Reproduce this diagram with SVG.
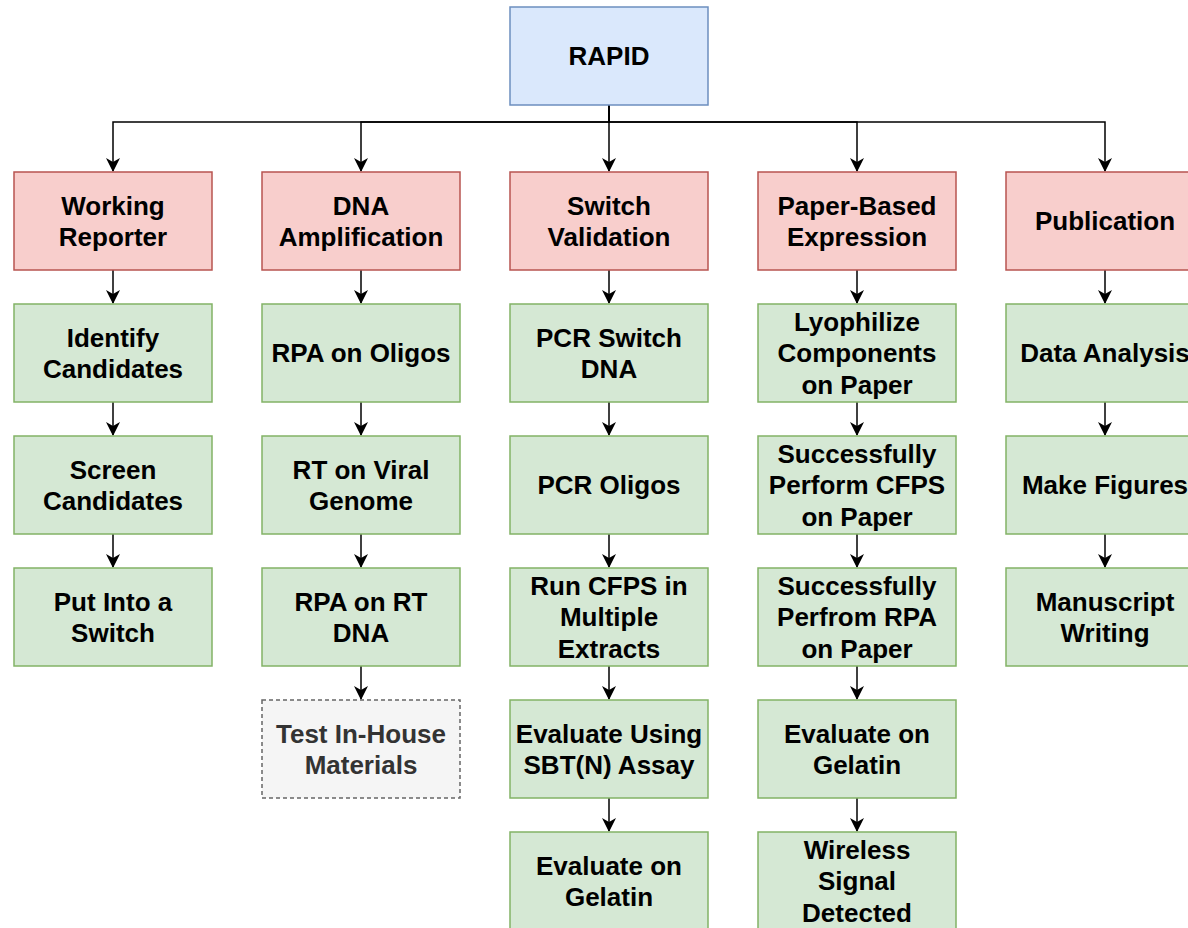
<svg xmlns="http://www.w3.org/2000/svg" width="1188" height="928" viewBox="0 0 1188 928">
<defs>
<style>
.n rect{stroke-width:1.5}
.blue rect{fill:#dae8fc;stroke:#6c8ebf}
.red rect{fill:#f8cecc;stroke:#b85450}
.green rect{fill:#d5e8d4;stroke:#82b366}
.grey rect{fill:#f5f5f5;stroke:#666666;stroke-dasharray:4 3}
.n text{font-family:"Liberation Sans",Arial,sans-serif;font-weight:bold;font-size:26px;text-anchor:middle;fill:#000}
.grey text{fill:#333333}
.e path{fill:none;stroke:#000;stroke-width:1.5;marker-end:url(#arr)}
</style>
<marker id="arr" markerUnits="userSpaceOnUse" viewBox="0 0 14 14" markerWidth="14" markerHeight="14" refX="13" refY="7" orient="auto">
<path d="M0,0 L14,7 L0,14 L4,7 z" fill="#000"/>
</marker>
</defs>
<rect width="1188" height="928" fill="#fff"/>
<g id="connectors" class="e">
<path d="M609,105 V122 H113 V171"/>
<path d="M609,105 V122 H361 V171"/>
<path d="M609,105 V171"/>
<path d="M609,105 V122 H857 V171"/>
<path d="M609,105 V122 H1105 V171"/>
<path d="M113,270 V303"/><path d="M113,402 V435"/><path d="M113,534 V567"/>
<path d="M361,270 V303"/><path d="M361,402 V435"/><path d="M361,534 V567"/><path d="M361,666 V699"/>
<path d="M609,270 V303"/><path d="M609,402 V435"/><path d="M609,534 V567"/><path d="M609,666 V699"/><path d="M609,798 V831"/>
<path d="M857,270 V303"/><path d="M857,402 V435"/><path d="M857,534 V567"/><path d="M857,666 V699"/><path d="M857,798 V831"/>
<path d="M1105,270 V303"/><path d="M1105,402 V435"/><path d="M1105,534 V567"/>
</g>
<g id="rapid" class="n blue"><rect x="510" y="7" width="198" height="98"/><text x="609" y="65">RAPID</text></g>

<g id="working-reporter" class="n red"><rect x="14" y="172" width="198" height="98"/><text x="113" y="215">Working</text><text x="113" y="246">Reporter</text></g>
<g id="dna-amplification" class="n red"><rect x="262" y="172" width="198" height="98"/><text x="361" y="215">DNA</text><text x="361" y="246">Amplification</text></g>
<g id="switch-validation" class="n red"><rect x="510" y="172" width="198" height="98"/><text x="609" y="215">Switch</text><text x="609" y="246">Validation</text></g>
<g id="paper-based-expression" class="n red"><rect x="758" y="172" width="198" height="98"/><text x="857" y="215">Paper-Based</text><text x="857" y="246">Expression</text></g>
<g id="publication" class="n red"><rect x="1006" y="172" width="198" height="98"/><text x="1105" y="230">Publication</text></g>

<g id="identify-candidates" class="n green"><rect x="14" y="304" width="198" height="98"/><text x="113" y="347">Identify</text><text x="113" y="378">Candidates</text></g>
<g id="screen-candidates" class="n green"><rect x="14" y="436" width="198" height="98"/><text x="113" y="479">Screen</text><text x="113" y="510">Candidates</text></g>
<g id="put-into-switch" class="n green"><rect x="14" y="568" width="198" height="98"/><text x="113" y="611">Put Into a</text><text x="113" y="642">Switch</text></g>

<g id="rpa-oligos" class="n green"><rect x="262" y="304" width="198" height="98"/><text x="361" y="362">RPA on Oligos</text></g>
<g id="rt-viral" class="n green"><rect x="262" y="436" width="198" height="98"/><text x="361" y="479">RT on Viral</text><text x="361" y="510">Genome</text></g>
<g id="rpa-rt" class="n green"><rect x="262" y="568" width="198" height="98"/><text x="361" y="611">RPA on RT</text><text x="361" y="642">DNA</text></g>
<g id="test-inhouse" class="n grey"><rect x="262" y="700" width="198" height="98"/><text x="361" y="743">Test In-House</text><text x="361" y="774">Materials</text></g>

<g id="pcr-switch" class="n green"><rect x="510" y="304" width="198" height="98"/><text x="609" y="347">PCR Switch</text><text x="609" y="378">DNA</text></g>
<g id="pcr-oligos" class="n green"><rect x="510" y="436" width="198" height="98"/><text x="609" y="494">PCR Oligos</text></g>
<g id="run-cfps" class="n green"><rect x="510" y="568" width="198" height="98"/><text x="609" y="595">Run CFPS in</text><text x="609" y="626">Multiple</text><text x="609" y="658">Extracts</text></g>
<g id="evaluate-sbt" class="n green"><rect x="510" y="700" width="198" height="98"/><text x="609" y="743">Evaluate Using</text><text x="609" y="774">SBT(N) Assay</text></g>
<g id="evaluate-gelatin-1" class="n green"><rect x="510" y="832" width="198" height="98"/><text x="609" y="875">Evaluate on</text><text x="609" y="906">Gelatin</text></g>

<g id="lyophilize" class="n green"><rect x="758" y="304" width="198" height="98"/><text x="857" y="331">Lyophilize</text><text x="857" y="362">Components</text><text x="857" y="394">on Paper</text></g>
<g id="perform-cfps" class="n green"><rect x="758" y="436" width="198" height="98"/><text x="857" y="463">Successfully</text><text x="857" y="494">Perform CFPS</text><text x="857" y="526">on Paper</text></g>
<g id="perform-rpa" class="n green"><rect x="758" y="568" width="198" height="98"/><text x="857" y="595">Successfully</text><text x="857" y="626">Perfrom RPA</text><text x="857" y="658">on Paper</text></g>
<g id="evaluate-gelatin-2" class="n green"><rect x="758" y="700" width="198" height="98"/><text x="857" y="743">Evaluate on</text><text x="857" y="774">Gelatin</text></g>
<g id="wireless" class="n green"><rect x="758" y="832" width="198" height="98"/><text x="857" y="859">Wireless</text><text x="857" y="890">Signal</text><text x="857" y="922">Detected</text></g>

<g id="data-analysis" class="n green"><rect x="1006" y="304" width="198" height="98"/><text x="1105" y="362">Data Analysis</text></g>
<g id="make-figures" class="n green"><rect x="1006" y="436" width="198" height="98"/><text x="1105" y="494">Make Figures</text></g>
<g id="manuscript" class="n green"><rect x="1006" y="568" width="198" height="98"/><text x="1105" y="611">Manuscript</text><text x="1105" y="642">Writing</text></g>
</svg>
